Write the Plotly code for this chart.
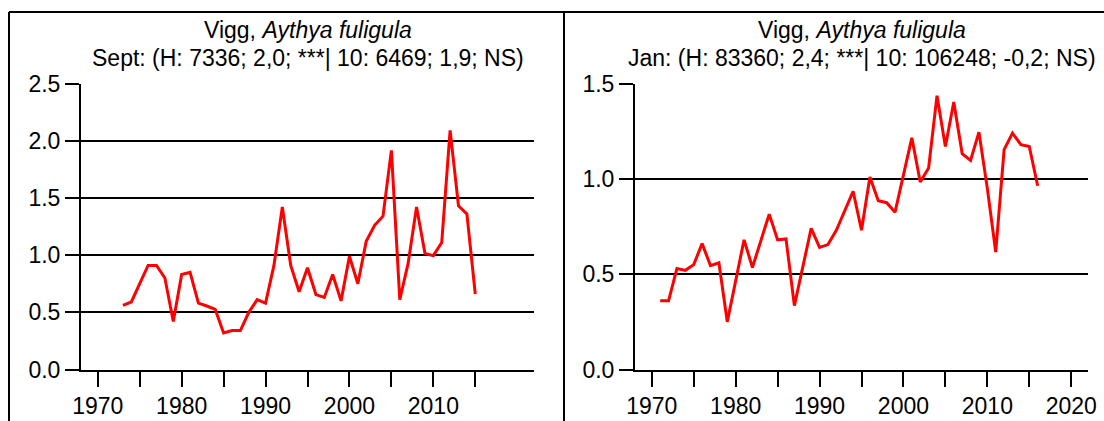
import plotly.graph_objects as go

# September index, Vigg (Aythya fuligula)
sept_years = list(range(1973, 2016))
sept_index = [0.56, 0.59, 0.75, 0.91, 0.91, 0.80, 0.42, 0.83, 0.85, 0.58,
              0.555, 0.525, 0.32, 0.34, 0.34, 0.50, 0.61, 0.58, 0.91, 1.42,
              0.91, 0.68, 0.89, 0.655, 0.63, 0.83, 0.60, 0.99, 0.75, 1.12,
              1.26, 1.34, 1.915, 0.61, 0.93, 1.42, 1.015, 0.995, 1.11, 2.09,
              1.43, 1.36, 0.66]

# January index
jan_years = list(range(1971, 2017))
jan_index = [0.36, 0.36, 0.53, 0.52, 0.55, 0.66, 0.545, 0.56, 0.25, 0.46,
             0.68, 0.535, 0.68, 0.815, 0.68, 0.685, 0.335, 0.54, 0.74, 0.64,
             0.655, 0.73, 0.83, 0.935, 0.73, 1.01, 0.885, 0.875, 0.825, 1.02,
             1.215, 0.983, 1.057, 1.436, 1.17, 1.403, 1.132, 1.097, 1.245, 0.95,
             0.616, 1.153, 1.24, 1.179, 1.17, 0.964]

title_species = "Vigg, <i>Aythya fuligula</i>"
sept_subtitle = "Sept: (H: 7336; 2,0; ***| 10: 6469; 1,9; NS)"
jan_subtitle = "Jan: (H: 83360; 2,4; ***| 10: 106248; -0,2; NS)"

left_ticks = list(range(1970, 2016, 5))
right_ticks = list(range(1970, 2021, 5))
left_ticktext = [str(y) if y % 10 == 0 else "" for y in left_ticks]
right_ticktext = [str(y) if y % 10 == 0 else "" for y in right_ticks]

W, H = 1104, 421
FONT = "Liberation Sans, Arial, sans-serif"
FS = 23

def px_x(p):
    return p / W

def px_y(p):
    return 1 - p / H

fig = go.Figure()
fig.add_trace(go.Scatter(x=sept_years, y=sept_index, mode="lines",
                         line=dict(color="#ff0000", width=3),
                         xaxis="x", yaxis="y", showlegend=False))
fig.add_trace(go.Scatter(x=jan_years, y=jan_index, mode="lines",
                         line=dict(color="#ff0000", width=3),
                         xaxis="x2", yaxis="y2", showlegend=False))

y_dom = [px_y(369.5), px_y(83.5)]

common_x = dict(range=[1968, 2022], showline=True, linecolor="black", linewidth=2,
                ticks="outside", ticklen=15, tickwidth=1.5, tickcolor="black",
                showgrid=False, zeroline=False, tickmode="array", automargin=False,
                ticklabeloverflow="allow",
                tickfont=dict(family=FONT, size=FS, color="black"))
common_y = dict(showline=True, linecolor="black", linewidth=2,
                ticks="outside", ticklen=14, tickwidth=1.5, tickcolor="black",
                showgrid=True, gridcolor="black", gridwidth=1.5, zeroline=False,
                tickformat=".1f", domain=y_dom, automargin=False,
                ticklabeloverflow="allow",
                tickfont=dict(family=FONT, size=FS, color="black"))

fig.update_layout(
    width=W, height=H,
    margin=dict(l=0, r=0, t=0, b=0, autoexpand=False),
    paper_bgcolor="white", plot_bgcolor="white",
    xaxis=dict(common_x, domain=[px_x(81), px_x(534)], anchor="y",
               tickvals=left_ticks, ticktext=left_ticktext),
    yaxis=dict(common_y, range=[0, 2.5], dtick=0.5, anchor="x"),
    xaxis2=dict(common_x, domain=[px_x(635), px_x(1088)], anchor="y2",
                tickvals=right_ticks, ticktext=right_ticktext),
    yaxis2=dict(common_y, range=[0, 1.5], dtick=0.5, anchor="x2"),
)

# Panel titles
for cx, sub in [((81 + 534) / 2, sept_subtitle), ((635 + 1088) / 2, jan_subtitle)]:
    fig.add_annotation(text=title_species, x=px_x(cx), y=px_y(30), xref="paper", yref="paper",
                       showarrow=False, xanchor="center", yanchor="middle",
                       font=dict(family=FONT, size=FS, color="black"))
    fig.add_annotation(text=sub, x=px_x(cx), y=px_y(58), xref="paper", yref="paper",
                       showarrow=False, xanchor="center", yanchor="middle",
                       font=dict(family=FONT, size=FS, color="black"))

# Panel frame lines
frame = dict(type="line", xref="paper", yref="paper", line=dict(color="black", width=2))
fig.add_shape(frame, x0=px_x(9), x1=1, y0=px_y(12), y1=px_y(12))
fig.add_shape(frame, x0=px_x(9), x1=px_x(9), y0=px_y(12), y1=0)
fig.add_shape(frame, x0=px_x(564), x1=px_x(564), y0=px_y(12), y1=0)

fig.write_html("out.html")
